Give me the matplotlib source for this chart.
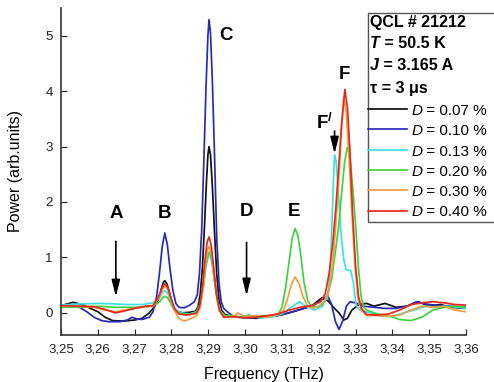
import numpy as np
import matplotlib.pyplot as plt
from matplotlib.lines import Line2D
from matplotlib.patches import Rectangle
from matplotlib.text import Annotation

plt.rcParams['font.family'] = ['Liberation Sans', 'DejaVu Sans']
plt.rcParams['mathtext.fontset'] = 'custom'
plt.rcParams['mathtext.rm'] = 'Liberation Sans'
plt.rcParams['mathtext.it'] = 'Liberation Sans:italic'
plt.rcParams['mathtext.bf'] = 'Liberation Sans:bold'

# spectra for each duty cycle (frequency in THz, power in arb. units)
freq_07 = [3.250, 3.2533, 3.256, 3.258, 3.260, 3.262, 3.264, 3.267, 3.270, 3.272, 3.274, 3.2755,
           3.2765, 3.2772, 3.2778, 3.2782, 3.2788, 3.2795, 3.2803, 3.2812, 3.283, 3.285, 3.2865,
           3.2872, 3.2878, 3.2884, 3.2890, 3.2895, 3.2899, 3.2902, 3.2906, 3.2911, 3.2917, 3.2923,
           3.2929, 3.2936, 3.2945, 3.297, 3.300, 3.303, 3.306, 3.309, 3.312, 3.315, 3.318, 3.3208,
           3.3225, 3.3240, 3.3255, 3.3268, 3.3278, 3.329, 3.331, 3.333, 3.335, 3.338, 3.341, 3.344,
           3.347, 3.350, 3.353, 3.356, 3.360]
power_07 = [0.13, 0.19, 0.14, 0.08, 0.02, -0.08, -0.14, -0.15, -0.13, -0.10, 0.00, 0.12,
            0.25, 0.42, 0.55, 0.58, 0.52, 0.35, 0.15, 0.03, 0.00, 0.01, 0.03,
            0.10, 0.33, 0.80, 1.60, 2.35, 2.85, 3.00, 2.85, 2.30, 1.45, 0.70,
            0.25, 0.05, -0.03, -0.07, -0.08, -0.10, -0.07, -0.05, 0.00, 0.06, 0.12, 0.27,
            0.22, 0.10, 0.00, -0.13, -0.10, 0.05, 0.15, 0.17, 0.12, 0.17, 0.10, 0.12,
            0.20, 0.12, 0.15, 0.10, 0.08]

freq_10 = [3.250, 3.253, 3.255, 3.257, 3.259, 3.261, 3.263, 3.266, 3.268, 3.2693, 3.2705, 3.272,
           3.274, 3.2750, 3.2760, 3.2768, 3.2775, 3.2782, 3.2789, 3.2796, 3.2804, 3.2812, 3.2820,
           3.2835, 3.2850, 3.2862, 3.2870, 3.2876, 3.2882, 3.2888, 3.2894, 3.2899, 3.2902, 3.2906,
           3.2911, 3.2917, 3.2923, 3.2929, 3.2935, 3.2942, 3.2950, 3.2965, 3.298, 3.301, 3.304,
           3.307, 3.310, 3.313, 3.316, 3.319, 3.3215, 3.3225, 3.3235, 3.3245, 3.3255, 3.3265,
           3.3275, 3.3285, 3.330, 3.332, 3.335, 3.338, 3.341, 3.344, 3.3465, 3.350, 3.353, 3.356,
           3.360]
power_10 = [0.12, 0.12, 0.10, 0.02, -0.08, -0.14, -0.16, -0.16, -0.13, -0.08, -0.11, -0.12,
            -0.08, 0.02, 0.30, 0.75, 1.20, 1.44, 1.22, 0.80, 0.40, 0.17, 0.10,
            0.09, 0.14, 0.20, 0.32, 0.70, 1.47, 2.75, 4.10, 5.00, 5.29, 5.05,
            4.20, 2.85, 1.35, 0.55, 0.20, 0.08, 0.03, -0.05, -0.08, -0.09, -0.08,
            -0.06, -0.03, 0.02, 0.08, 0.15, 0.27, 0.30, 0.15, -0.15, -0.30, -0.15,
            0.12, 0.20, 0.18, 0.12, 0.10, 0.08, 0.08, 0.12, 0.20, 0.15, 0.13, 0.12,
            0.10]

freq_13 = [3.250, 3.255, 3.260, 3.265, 3.268, 3.272, 3.275, 3.2768, 3.2776, 3.2782, 3.2790,
           3.2798, 3.2808, 3.2825, 3.2850, 3.2868, 3.2878, 3.2886, 3.2893, 3.2900, 3.2904, 3.2910,
           3.2917, 3.2925, 3.2933, 3.2945, 3.298, 3.301, 3.304, 3.307, 3.310, 3.3125, 3.3148,
           3.3170, 3.3190, 3.3210, 3.3225, 3.3232, 3.3237, 3.3240, 3.3243, 3.3247, 3.3253, 3.3260,
           3.3267, 3.3274, 3.3287, 3.3294, 3.3301, 3.331, 3.334, 3.337, 3.340, 3.343, 3.346,
           3.349, 3.352, 3.355, 3.358, 3.360]
power_13 = [0.14, 0.16, 0.17, 0.16, 0.15, 0.15, 0.18, 0.28, 0.37, 0.40, 0.35,
            0.22, 0.08, 0.00, -0.02, 0.02, 0.15, 0.45, 0.80, 1.02, 1.05, 0.90,
            0.55, 0.20, 0.02, -0.06, -0.08, -0.06, -0.09, -0.08, -0.02, 0.10, 0.20,
            0.10, 0.05, 0.12, 0.30, 0.90, 1.80, 2.40, 2.85, 2.75, 2.20, 1.50,
            1.00, 0.78, 0.76, 0.55, 0.15, 0.05, 0.00, -0.06, -0.07, 0.00, 0.05,
            0.12, 0.10, 0.12, 0.10, 0.08]

freq_20 = [3.250, 3.255, 3.260, 3.265, 3.270, 3.275, 3.2768, 3.2776, 3.2782, 3.2790, 3.2798,
           3.2808, 3.2825, 3.285, 3.2868, 3.2878, 3.2886, 3.2893, 3.2900, 3.2904, 3.2910, 3.2917,
           3.2925, 3.2933, 3.2945, 3.297, 3.299, 3.301, 3.303, 3.305, 3.307, 3.309, 3.3100,
           3.3110, 3.3120, 3.3128, 3.3136, 3.3144, 3.3152, 3.3160, 3.3170, 3.3180, 3.3195, 3.3210,
           3.3222, 3.3235, 3.3245, 3.3254, 3.3262, 3.3270, 3.3277, 3.3284, 3.3292, 3.3301, 3.3308,
           3.3315, 3.3322, 3.333, 3.336, 3.339, 3.342, 3.345, 3.348, 3.351, 3.354, 3.357, 3.360]
power_20 = [0.10, 0.10, 0.12, 0.10, 0.10, 0.12, 0.20, 0.27, 0.30, 0.27, 0.17,
            0.05, -0.02, -0.03, 0.00, 0.12, 0.45, 0.85, 1.07, 1.10, 0.95, 0.58,
            0.22, 0.03, -0.05, -0.05, -0.08, -0.04, -0.08, -0.05, -0.06, -0.02, 0.10,
            0.45, 0.95, 1.35, 1.52, 1.38, 1.00, 0.55, 0.22, 0.12, 0.10, 0.15,
            0.30, 0.60, 1.10, 1.55, 2.15, 2.70, 2.98, 2.85, 2.30, 1.50, 0.80,
            0.30, 0.10, 0.05, -0.02, -0.05, -0.12, -0.14, -0.08, 0.05, 0.10, 0.12, 0.10]

freq_30 = [3.250, 3.255, 3.259, 3.262, 3.265, 3.268, 3.272, 3.275, 3.2768, 3.2776, 3.2782,
           3.2790, 3.2798, 3.2808, 3.2820, 3.2835, 3.2855, 3.2868, 3.2878, 3.2886, 3.2893, 3.2899,
           3.2903, 3.2909, 3.2916, 3.2924, 3.2932, 3.2945, 3.297, 3.298, 3.300, 3.303, 3.306,
           3.309, 3.3105, 3.3115, 3.3125, 3.3136, 3.3147, 3.3158, 3.3170, 3.3185, 3.3200, 3.3215,
           3.3228, 3.3238, 3.3246, 3.3254, 3.3261, 3.3268, 3.3275, 3.3283, 3.3291, 3.3299, 3.3307,
           3.3315, 3.333, 3.336, 3.339, 3.342, 3.345, 3.348, 3.351, 3.354, 3.357, 3.360]
power_30 = [0.12, 0.12, 0.10, 0.05, 0.02, 0.06, 0.10, 0.12, 0.30, 0.44, 0.48,
            0.42, 0.25, 0.05, -0.10, -0.15, -0.10, -0.05, 0.10, 0.45, 0.90, 1.15,
            1.20, 1.05, 0.65, 0.25, 0.02, -0.08, -0.06, 0.00, -0.07, -0.05, -0.08,
            -0.03, 0.05, 0.25, 0.50, 0.65, 0.52, 0.28, 0.12, 0.08, 0.12, 0.20,
            0.40, 0.90, 1.55, 2.35, 3.20, 3.90, 3.60, 2.70, 1.70, 0.80, 0.25,
            0.05, -0.05, -0.05, -0.06, -0.04, 0.05, 0.12, 0.10, 0.12, 0.05, 0.02]

freq_40 = [3.250, 3.255, 3.259, 3.262, 3.2647, 3.267, 3.270, 3.273, 3.275, 3.2768, 3.2776,
           3.2782, 3.2790, 3.2798, 3.2808, 3.2820, 3.284, 3.286, 3.2868, 3.2876, 3.2884, 3.2891,
           3.2897, 3.2902, 3.2908, 3.2915, 3.2922, 3.2930, 3.2942, 3.297, 3.300, 3.303, 3.306,
           3.309, 3.312, 3.315, 3.318, 3.3205, 3.3218, 3.3228, 3.3238, 3.3246, 3.3254, 3.3262,
           3.3271, 3.3278, 3.3285, 3.3292, 3.3300, 3.3308, 3.3316, 3.333, 3.336, 3.339, 3.342,
           3.345, 3.348, 3.351, 3.354, 3.357, 3.360]
power_40 = [0.13, 0.12, 0.11, 0.06, 0.00, 0.03, 0.08, 0.12, 0.13, 0.33, 0.47,
            0.52, 0.46, 0.28, 0.08, -0.02, -0.04, -0.02, 0.00, 0.10, 0.45, 0.95,
            1.28, 1.37, 1.22, 0.80, 0.35, 0.05, -0.08, -0.07, -0.09, -0.08, -0.05,
            -0.02, 0.05, 0.10, 0.13, 0.20, 0.35, 0.70, 1.25, 1.85, 2.60, 3.40,
            4.03, 3.70, 2.90, 1.80, 0.85, 0.30, 0.08, -0.03, -0.04, -0.02, 0.05,
            0.15, 0.18, 0.20, 0.18, 0.15, 0.14]

duty_labels = ['0.07', '0.10', '0.13', '0.20', '0.30', '0.40']
line_colors = ['#111111', '#2a2ab8', '#3ee0e8', '#3ed43e', '#f0a040', '#e8281e']

freq_ticks = [3.25, 3.26, 3.27, 3.28, 3.29, 3.30, 3.31, 3.32, 3.33, 3.34, 3.35, 3.36]
power_ticks = [0, 1, 2, 3, 4, 5]

# mode labels: (text, frequency, power) and arrows: (frequency, tail, tip)
mode_labels = [('A', 3.2649, 1.80), ('B', 3.2782, 1.80), ('C', 3.2948, 5.00),
               ('D', 3.3004, 1.83), ('E', 3.3133, 1.83), ('F', 3.3270, 4.30),
               (r'F$^{\mathbf{/}}$', 3.3215, 3.42)]
mode_arrows = [(3.2649, 1.29, 0.29), (3.3004, 1.27, 0.31), (3.3243, 3.28, 2.87)]

fig = plt.figure(figsize=(4.94, 3.82), dpi=100)
W, H = 494.0, 382.0
ax = fig.add_axes([61 / W, 1 - 335 / H, 405 / W, 327 / H])

series = [(freq_07, power_07), (freq_10, power_10), (freq_13, power_13),
          (freq_20, power_20), (freq_30, power_30), (freq_40, power_40)]
lines = []
for (f, p), c in zip(series, line_colors):
    ln, = ax.plot(f, p, color=c, lw=1.25)
    lines.append(ln)

ax.set_xlim(3.25, 3.36)
ax.set_ylim(-0.4, 5.5)
ax.set_xticks(freq_ticks)
ax.set_xticklabels([f'{t:.2f}'.replace('.', ',') for t in freq_ticks])
ax.set_yticks(power_ticks)
ax.tick_params(direction='in', length=4, width=0.8, labelsize=9.5, pad=6, colors='#222222')
for side in ['top', 'right']:
    ax.spines[side].set_visible(False)
for side in ['left', 'bottom']:
    ax.spines[side].set_linewidth(1.2)
    ax.spines[side].set_color('#333333')

ax.set_xlabel('Frequency (THz)', fontsize=11.5)
ax.xaxis.set_label_coords(0.5, -0.098)
ax.set_ylabel('Power (arb.units)', fontsize=11.5)
ax.yaxis.set_label_coords(-0.094, 0.5)

for txt, f, p in mode_labels:
    ax.text(f, p, txt, fontsize=13.5, fontweight='bold', ha='center', va='center')
for f, tail, tip in mode_arrows:
    ax.annotate('', xy=(f, tip), xytext=(f, tail),
                arrowprops=dict(arrowstyle='-|>,head_width=0.25,head_length=1.0',
                                color='black', lw=1.2, shrinkA=0, shrinkB=0))

# legend box with the measurement conditions
fig.add_artist(Rectangle((368 / W, 1 - 222 / H), 140 / W, 209 / H, transform=fig.transFigure,
                         facecolor='white', edgecolor='#555555', lw=1.0))


def text_row(x, y, parts, size):
    prev = fig.text(x / W, 1 - y / H, parts[0][0], fontsize=size, va='baseline',
                    fontstyle=parts[0][1], fontweight=parts[0][2])
    for s, style, weight in parts[1:]:
        prev = fig.add_artist(Annotation(s, xy=(1, 0), xycoords=prev, va='bottom', ha='left',
                                         fontsize=size, fontstyle=style, fontweight=weight))


text_row(370, 26.5, [('QCL # 21212', 'normal', 'bold')], 11.5)
text_row(370, 48.5, [('T', 'italic', 'bold'), (' = 50.5 K', 'normal', 'bold')], 11.5)
text_row(370, 70.5, [('J', 'italic', 'bold'), (' = 3.165 A', 'normal', 'bold')], 11.5)
text_row(370, 92.5, [('τ = 3 μs', 'normal', 'bold')], 11.5)

for i, (lab, ln) in enumerate(zip(duty_labels, lines)):
    yb = 115 + i * 20.3
    fig.add_artist(Line2D([368 / W, 407 / W], [1 - (yb - 6) / H] * 2, transform=fig.transFigure,
                          color=ln.get_color(), lw=1.25))
    text_row(411.5, yb, [('D', 'italic', 'normal'), (f' = {lab} %', 'normal', 'normal')], 11)

fig.savefig('out.png', dpi=100)
